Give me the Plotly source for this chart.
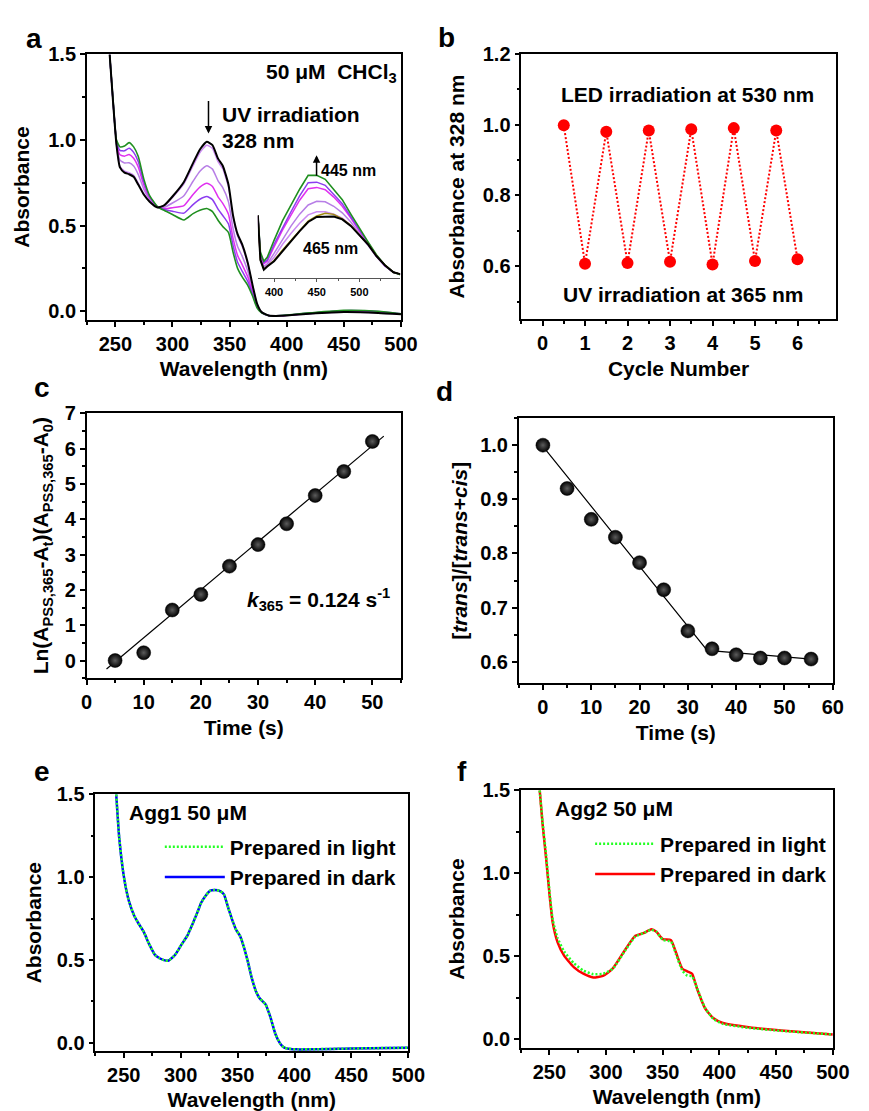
import plotly.graph_objects as go

W, H = 869, 1111
FONT = "Liberation Sans"

# ---------------- Panel a: UV-vis spectra under UV irradiation ----------------
wl_a = [245, 248, 251, 254, 258, 262, 266, 270, 275, 280, 287, 293, 300, 310, 318, 324, 330,
        335, 340, 344, 349, 353, 357, 361, 366, 370, 374, 378, 384, 395, 420, 450, 480, 500]
abs_black = [1.5, 1.22, 0.97, 0.84, 0.81, 0.80, 0.785, 0.74, 0.68, 0.64, 0.606, 0.62, 0.67, 0.755,
             0.865, 0.945, 0.99, 0.97, 0.89, 0.85, 0.74, 0.56, 0.45, 0.39, 0.28, 0.155, 0.045,
             -0.005, -0.025, -0.027, -0.015, -0.005, -0.01, -0.018]
abs_lightviolet = [1.5, 1.22, 0.972, 0.846, 0.818, 0.809, 0.794, 0.748, 0.685, 0.642, 0.606, 0.618,
                   0.665, 0.744, 0.85, 0.927, 0.97, 0.951, 0.872, 0.832, 0.726, 0.549, 0.44, 0.38,
                   0.274, 0.152, 0.044, -0.005, -0.025, -0.027, -0.015, -0.005, -0.01, -0.018]
abs_orchid = [1.5, 1.224, 0.981, 0.883, 0.866, 0.867, 0.848, 0.799, 0.712, 0.653, 0.607, 0.608,
              0.632, 0.675, 0.759, 0.817, 0.85, 0.83, 0.76, 0.722, 0.639, 0.483, 0.378, 0.322,
              0.233, 0.132, 0.036, -0.007, -0.025, -0.026, -0.013, -0.001, -0.006, -0.017]
abs_magenta = [1.5, 1.226, 0.989, 0.914, 0.906, 0.915, 0.893, 0.842, 0.736, 0.662, 0.608, 0.6,
               0.605, 0.617, 0.682, 0.725, 0.748, 0.729, 0.667, 0.63, 0.566, 0.427, 0.326, 0.272,
               0.199, 0.115, 0.03, -0.008, -0.025, -0.026, -0.012, 0.001, -0.004, -0.016]
abs_purple = [1.5, 1.228, 0.995, 0.94, 0.937, 0.952, 0.928, 0.875, 0.754, 0.669, 0.609, 0.594,
              0.584, 0.573, 0.623, 0.654, 0.67, 0.652, 0.595, 0.559, 0.51, 0.384, 0.286, 0.234,
              0.173, 0.102, 0.025, -0.009, -0.025, -0.025, -0.011, 0.003, -0.002, -0.015]
abs_green = [1.5, 1.23, 1.0, 0.96, 0.965, 0.985, 0.96, 0.905, 0.77, 0.675, 0.61, 0.588, 0.565,
             0.533, 0.57, 0.59, 0.6, 0.582, 0.53, 0.495, 0.46, 0.345, 0.25, 0.2, 0.15, 0.09, 0.02,
             -0.01, -0.025, -0.025, -0.01, 0.005, 0.0, -0.015]

# inset (zoom of the 400-550 nm band)
wl_in = [381, 384, 388, 392, 400, 410, 420, 430, 440, 450, 460, 470, 480, 490, 500, 510, 520,
         530, 540, 548]
in_black = [-0.008, -0.025, -0.0287, -0.0275, -0.0255, -0.0215, -0.0178, -0.014, -0.0105, -0.0086,
            -0.0084, -0.0084, -0.0095, -0.012, -0.0155, -0.019, -0.0235, -0.027, -0.0297, -0.0304]
in_olive = [-0.008, -0.025, -0.0285, -0.0273, -0.0252, -0.0212, -0.0175, -0.0137, -0.0102, -0.0082,
            -0.0072, -0.0076, -0.0093, -0.0118, -0.0153, -0.0189, -0.0234, -0.027, -0.0297, -0.0304]
in_lightviolet = [-0.008, -0.0245, -0.028, -0.027, -0.024, -0.019, -0.0148, -0.011, -0.0078,
                  -0.0066, -0.0066, -0.0075, -0.009, -0.0118, -0.0155, -0.0192, -0.0237, -0.0273,
                  -0.0297, -0.0305]
in_orchid = [-0.008, -0.024, -0.0275, -0.0265, -0.0225, -0.017, -0.012, -0.0075, -0.004, -0.0026,
             -0.0028, -0.0045, -0.007, -0.0105, -0.015, -0.0192, -0.0237, -0.0273, -0.0297, -0.0305]
in_magenta = [-0.008, -0.023, -0.0265, -0.0255, -0.02, -0.0135, -0.0078, -0.0022, 0.0022, 0.0027,
              0.0018, -0.001, -0.0045, -0.009, -0.014, -0.0188, -0.0235, -0.0272, -0.0297, -0.0305]
in_purple = [-0.008, -0.0225, -0.026, -0.025, -0.019, -0.0125, -0.0065, -0.0005, 0.0045, 0.0047,
             0.0035, 0.0, -0.0035, -0.0085, -0.0135, -0.0185, -0.0233, -0.0272, -0.0297, -0.0305]
in_green = [-0.008, -0.022, -0.0255, -0.024, -0.0175, -0.01, -0.004, 0.002, 0.0073, 0.0073, 0.0058,
            0.002, -0.002, -0.0075, -0.013, -0.018, -0.023, -0.027, -0.0297, -0.0306]

# ---------------- Panel b: switching cycles ----------------
cycle = [0.5, 1, 1.5, 2, 2.5, 3, 3.5, 4, 4.5, 5, 5.5, 6]
abs328 = [0.998, 0.607, 0.98, 0.609, 0.983, 0.613, 0.987, 0.605, 0.99, 0.615, 0.983, 0.62]

# ---------------- Panel c: kinetics ----------------
time_c = [5, 10, 15, 20, 25, 30, 35, 40, 45, 50]
ln_c = [0.0, 0.22, 1.43, 1.87, 2.67, 3.28, 3.87, 4.67, 5.35, 6.2]
fit_c_x = [3.5, 52]
fit_c_y = [-0.24, 6.35]

# ---------------- Panel d: trans fraction ----------------
time_d = [0, 5, 10, 15, 20, 25, 30, 35, 40, 45, 50, 55.5]
frac_d = [1.0, 0.92, 0.863, 0.83, 0.783, 0.733, 0.657, 0.624, 0.613, 0.607, 0.607, 0.605]
fit_d_x = [0, 34, 55.5]
fit_d_y = [0.998, 0.621, 0.605]

# ---------------- Panel e: Agg1 ----------------
wl_e = [243.4, 246, 249.2, 252, 254.9, 259.2, 263, 267.7, 272, 277.6, 281.5, 285.3, 289, 295, 300.4,
        306, 310, 314.7, 318, 321.8, 326, 330, 334.6, 338, 342, 346, 349, 351.9, 355, 359, 362.5,
        366.1, 369, 372, 374.6, 378.9, 383.2, 387.5, 391, 394.6, 403, 450, 500]
agg1_dark = [1.5, 1.24, 1.045, 0.93, 0.847, 0.767, 0.72, 0.668, 0.6, 0.529, 0.51, 0.499, 0.495,
             0.53, 0.589, 0.648, 0.71, 0.787, 0.845, 0.886, 0.918, 0.922, 0.916, 0.896, 0.81,
             0.728, 0.678, 0.648, 0.59, 0.49, 0.39, 0.311, 0.272, 0.25, 0.232, 0.153, 0.053,
             -0.006, -0.03, -0.036, -0.04, -0.035, -0.03]
agg1_light = [1.5, 1.24, 1.045, 0.93, 0.847, 0.767, 0.72, 0.668, 0.6, 0.529, 0.51, 0.499, 0.495,
              0.53, 0.589, 0.648, 0.71, 0.787, 0.845, 0.886, 0.918, 0.922, 0.916, 0.896, 0.81,
              0.728, 0.678, 0.648, 0.59, 0.49, 0.39, 0.311, 0.272, 0.25, 0.232, 0.153, 0.053,
              -0.006, -0.03, -0.036, -0.04, -0.035, -0.03]

# ---------------- Panel f: Agg2 ----------------
wl_f = [241.5, 244, 247.3, 250, 253, 257.3, 263, 271.5, 280, 288.7, 297.3, 305.8, 317.3, 325.8,
        333, 340, 344.4, 350, 357.3, 361.6, 367.3, 371.6, 375.9, 380.2, 387.3, 394.5, 403, 425.8,
        454.4, 500]
agg2_dark = [1.5, 1.3, 1.08, 0.882, 0.703, 0.585, 0.505, 0.436, 0.396, 0.373, 0.383, 0.426, 0.545,
             0.624, 0.64, 0.663, 0.648, 0.604, 0.598, 0.525, 0.426, 0.41, 0.396, 0.307, 0.188,
             0.129, 0.099, 0.074, 0.054, 0.03]
agg2_light = [1.5, 1.31, 1.1, 0.9, 0.72, 0.61, 0.53, 0.46, 0.415, 0.393, 0.395, 0.425, 0.54, 0.62,
              0.64, 0.66, 0.648, 0.6, 0.59, 0.515, 0.415, 0.385, 0.38, 0.31, 0.19, 0.125, 0.094,
              0.07, 0.052, 0.03]

# ---------------- helpers (layout only) ----------------
def xdom(l, r):
    return [l / W, r / W]

def ydom(t, b):
    return [1 - b / H, 1 - t / H]

def px(x):
    return x / W

def py(y):
    return 1 - y / H

def fnt(size, **kw):
    d = dict(family=FONT, size=size, color="black", weight="bold")
    d.update(kw)
    return d

C_GREEN = "#1f8f1f"
C_PURPLE = "#8c3cf0"
C_MAGENTA = "#e030f0"
C_ORCHID = "#b77ee6"
C_LVIOLET = "#cc8cf2"
C_OLIVE = "#a08c10"

fig = go.Figure()

# panel a
for y, c, w in [(abs_lightviolet, C_LVIOLET, 1.5), (abs_orchid, C_ORCHID, 1.5),
                (abs_magenta, C_MAGENTA, 1.5), (abs_purple, C_PURPLE, 1.5),
                (abs_green, C_GREEN, 1.6), (abs_black, "black", 2)]:
    fig.add_trace(go.Scatter(x=wl_a, y=y, mode="lines", line=dict(color=c, width=w, shape="spline", smoothing=0.5),
                             xaxis="x", yaxis="y", showlegend=False))
for y, c, w in [(in_lightviolet, C_LVIOLET, 1.5), (in_orchid, C_ORCHID, 1.5),
                (in_magenta, C_MAGENTA, 1.5), (in_purple, C_PURPLE, 1.5),
                (in_green, C_GREEN, 1.6), (in_olive, C_OLIVE, 1.5), (in_black, "black", 2)]:
    fig.add_trace(go.Scatter(x=wl_in, y=y, mode="lines", line=dict(color=c, width=w),
                             xaxis="x7", yaxis="y7", showlegend=False))

# panel b
fig.add_trace(go.Scatter(x=cycle, y=abs328, mode="lines+markers",
                         line=dict(color="#ff0000", width=2, dash="2px,2px"),
                         marker=dict(color="#ff0000", size=12),
                         xaxis="x2", yaxis="y2", showlegend=False))

sphere = dict(color="#000000", size=14, gradient=dict(type="radial", color="#5c5c5c"),
              line=dict(width=0.5, color="black"))
# panel c
fig.add_trace(go.Scatter(x=fit_c_x, y=fit_c_y, mode="lines", line=dict(color="black", width=1.2),
                         xaxis="x3", yaxis="y3", showlegend=False))
fig.add_trace(go.Scatter(x=time_c, y=ln_c, mode="markers", marker=sphere,
                         xaxis="x3", yaxis="y3", showlegend=False))
# panel d
fig.add_trace(go.Scatter(x=fit_d_x, y=fit_d_y, mode="lines", line=dict(color="black", width=1.2),
                         xaxis="x4", yaxis="y4", showlegend=False))
fig.add_trace(go.Scatter(x=time_d, y=frac_d, mode="markers", marker=sphere,
                         xaxis="x4", yaxis="y4", showlegend=False))

# panel e
fig.add_trace(go.Scatter(x=wl_e, y=agg1_dark, mode="lines", name="Prepared in dark",
                         line=dict(color="#0000ff", width=2.5, shape="spline", smoothing=0.5),
                         xaxis="x5", yaxis="y5", legend="legend", legendrank=2))
fig.add_trace(go.Scatter(x=wl_e, y=agg1_light, mode="lines", name="Prepared in light",
                         line=dict(color="#22ff22", width=2.5, dash="2px,2px", shape="spline", smoothing=0.5),
                         xaxis="x5", yaxis="y5", legend="legend", legendrank=1))
# panel f
fig.add_trace(go.Scatter(x=wl_f, y=agg2_dark, mode="lines", name="Prepared in dark",
                         line=dict(color="#ff0000", width=2.5, shape="spline", smoothing=0.5),
                         xaxis="x6", yaxis="y6", legend="legend2", legendrank=2))
fig.add_trace(go.Scatter(x=wl_f, y=agg2_light, mode="lines", name="Prepared in light",
                         line=dict(color="#22ff22", width=2.5, dash="2px,2px", shape="spline", smoothing=0.5),
                         xaxis="x6", yaxis="y6", legend="legend2", legendrank=1))


def ax(domain, rng, dtick, mdtick, anchor, title=None, fmt=None, standoff=None):
    d = dict(domain=domain, range=rng, dtick=dtick, anchor=anchor,
             showline=True, linecolor="black", linewidth=1.5, mirror=True,
             ticks="outside", ticklen=5, tickwidth=1.5, tickcolor="black",
             showgrid=False, zeroline=False, tickfont=fnt(20),
             minor=dict(ticks="outside", ticklen=3, tickwidth=1.5, tickcolor="black", dtick=mdtick))
    if fmt:
        d["tickformat"] = fmt
    if title is not None:
        t = dict(text=title, font=fnt(21))
        if standoff is not None:
            t["standoff"] = standoff
        d["title"] = t
    return d


layout = dict(
    width=W, height=H, margin=dict(l=0, r=0, t=0, b=0),
    paper_bgcolor="white", plot_bgcolor="white",
    font=dict(family=FONT, color="black"),
    # a
    xaxis=ax(xdom(83, 405.7), [225, 500], 50, 25, "y", "Wavelength (nm)", standoff=8),
    yaxis=ax(ydom(44, 312.7), [-0.05, 1.5], 0.5, 0.25, "x", "Absorbance", ".1f", standoff=13),
    # b
    xaxis2=ax(xdom(529.3, 852.3), [-0.5, 6.9], 1, 0.5, "y2", "Cycle Number", standoff=8),
    yaxis2=ax(ydom(43.3, 312.3), [0.45, 1.2], 0.2, 0.1, "x2", "Absorbance at 328 nm", ".1f", standoff=12),
    # c
    xaxis3=ax(xdom(82.7, 405.7), [0, 55], 10, 5, "y3", "Time (s)", standoff=8),
    yaxis3=ax(ydom(407.3, 675.7), [-0.5, 7], 1, 0.5, "x3",
              "Ln(A<sub>PSS,365</sub>-A<sub>t</sub>)(A<sub>PSS,365</sub>-A<sub>0</sub>)", standoff=10),
    # d
    xaxis4=ax(xdom(526.7, 849.3), [-5, 60], 10, 5, "y4", "Time (s)", standoff=8),
    yaxis4=ax(ydom(412.3, 681), [0.56, 1.05], 0.1, 0.05, "x4",
              "[<i>trans</i>]/[<i>trans</i>+<i>cis</i>]", ".1f", standoff=7),
    # e
    xaxis5=ax(xdom(91.7, 413.3), [225, 500], 50, 25, "y5", "Wavelength (nm)", standoff=8),
    yaxis5=ax(ydom(793.3, 1053.3), [-0.05, 1.5], 0.5, 0.25, "x5", "Absorbance", ".1f", standoff=9),
    # f
    xaxis6=ax(xdom(529, 849.3), [225, 500], 50, 25, "y6", "Wavelength (nm)", standoff=8),
    yaxis6=ax(ydom(789.3, 1050), [-0.05, 1.5], 0.5, 0.25, "x6", "Absorbance", ".1f", standoff=12),
    # inset
    xaxis7=dict(domain=xdom(258.7, 405), range=[381, 548], anchor="y7", dtick=50,
                showline=True, linecolor="#555555", linewidth=1.2, mirror=False,
                ticks="outside", ticklen=3, tickwidth=1, tickcolor="#555555",
                showgrid=False, zeroline=False, tickfont=fnt(11),
                minor=dict(ticks="outside", ticklen=2, tickcolor="#555555", dtick=25)),
    yaxis7=dict(domain=ydom(150, 270.7), range=[-0.032, 0.0135], anchor="x7", visible=False),
    legend=dict(x=px(158), y=py(826), xanchor="left", yanchor="top", bgcolor="rgba(0,0,0,0)",
                font=fnt(21), itemwidth=60, borderwidth=0, tracegroupgap=0),
    legend2=dict(x=px(600), y=py(823), xanchor="left", yanchor="top", bgcolor="rgba(0,0,0,0)",
                 font=fnt(21), itemwidth=60, borderwidth=0, tracegroupgap=0),
)
fig.update_layout(**layout)

ann = []
# panel letters
for t, x, y in [("a", 18, 28), ("b", 442, 27), ("c", 27, 381), ("d", 440, 385), ("e", 27, 770), ("f", 461, 770)]:
    ann.append(dict(text=t, x=px(x), y=py(y), xref="paper", yref="paper", xanchor="left",
                    yanchor="middle", showarrow=False, font=fnt(28)))
# panel a texts
ann += [
    dict(text="50 μM  CHCl<sub>3</sub>", x=px(404), y=py(63), xanchor="right", yanchor="middle"),
    dict(text="UV irradiation", x=px(220), y=py(105), xanchor="left", yanchor="middle"),
    dict(text="328 nm", x=px(220), y=py(131), xanchor="left", yanchor="middle"),
    dict(text="445 nm", x=px(321), y=py(162), xanchor="left", yanchor="middle", font=fnt(16)),
    dict(text="465 nm", x=px(333), y=py(241), xanchor="center", yanchor="middle", font=fnt(16)),
    # b
    dict(text="LED irradiation at 530 nm", x=px(700), y=py(85), xanchor="center", yanchor="middle"),
    dict(text="UV irradiation at 365 nm", x=px(695), y=py(287), xanchor="center", yanchor="middle"),
    # c
    dict(text="<i>k</i><sub>365</sub> = 0.124 s<sup>-1</sup>", x=px(321), y=py(596), xanchor="center",
         yanchor="middle"),
    # e/f legend headings
    dict(text="Agg1 50 μM", x=px(124), y=py(812), xanchor="left", yanchor="middle"),
    dict(text="Agg2 50 μM", x=px(562), y=py(808), xanchor="left", yanchor="middle"),
]
for a in ann:
    a.setdefault("xref", "paper")
    a.setdefault("yref", "paper")
    a.setdefault("showarrow", False)
    a.setdefault("font", fnt(21))
# arrows
ann.append(dict(text="", x=px(208), y=py(124), xref="paper", yref="paper", ax=0, ay=-34,
                showarrow=True, arrowhead=2, arrowsize=1, arrowwidth=1.5, arrowcolor="black"))
ann.append(dict(text="", x=px(319), y=py(146), xref="paper", yref="paper", ax=0, ay=22,
                showarrow=True, arrowhead=2, arrowsize=1, arrowwidth=1.5, arrowcolor="black"))
fig.update_layout(annotations=ann)

fig.write_html("out.html")
